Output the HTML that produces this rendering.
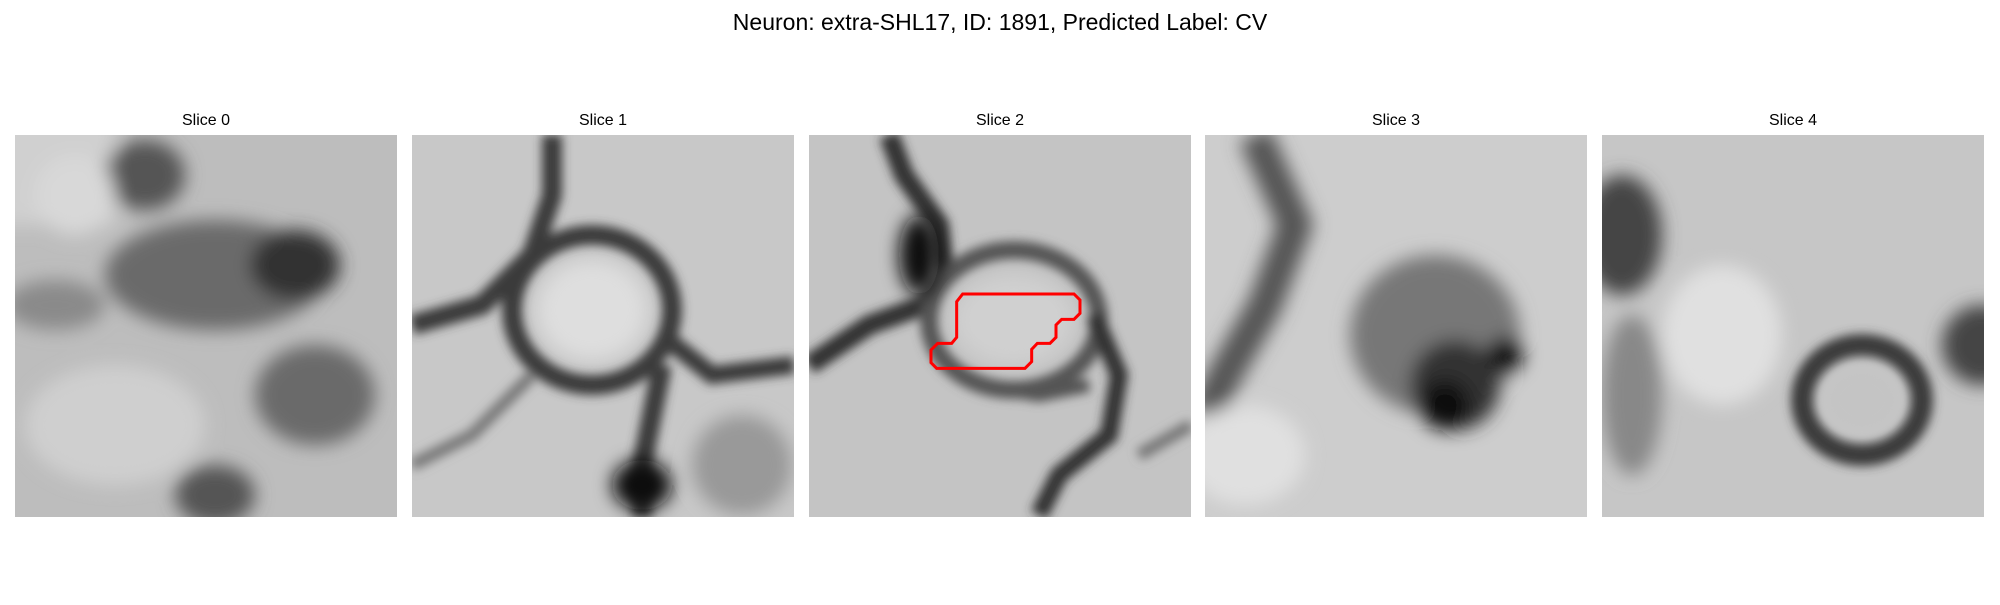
<!DOCTYPE html>
<html><head><style>
body{margin:0;background:#fff;width:2000px;height:600px;overflow:hidden;font-family:"Liberation Sans",sans-serif}
</style></head><body>
<svg width="2000" height="600" viewBox="0 0 2000 600" xmlns="http://www.w3.org/2000/svg">
<defs>
<filter id="b" x="-20%" y="-20%" width="140%" height="140%"><feGaussianBlur stdDeviation="9"/></filter>
<filter id="b2" x="-20%" y="-20%" width="140%" height="140%"><feGaussianBlur stdDeviation="5"/></filter>
<clipPath id="c"><rect x="0" y="0" width="382" height="382"/></clipPath>
</defs>
<text x="1000" y="30" text-anchor="middle" font-size="23">Neuron: extra-SHL17, ID: 1891, Predicted Label: CV</text>

<g transform="translate(15,135)">
<text x="191" y="-10" text-anchor="middle" font-size="16">Slice 0</text>
<g clip-path="url(#c)"><rect width="382" height="382" fill="#bdbdbd"/>
<g filter="url(#b)">
<rect x="-20" y="-20" width="120" height="110" fill="#d0d0d0"/>
<ellipse cx="130" cy="40" rx="40" ry="35" fill="#555"/>
<ellipse cx="200" cy="140" rx="110" ry="55" fill="#6a6a6a"/>
<ellipse cx="280" cy="130" rx="45" ry="35" fill="#333"/>
<ellipse cx="40" cy="170" rx="50" ry="25" fill="#8a8a8a"/>
<ellipse cx="100" cy="290" rx="90" ry="60" fill="#cfcfcf"/>
<ellipse cx="300" cy="260" rx="60" ry="50" fill="#6a6a6a"/>
<ellipse cx="200" cy="360" rx="40" ry="30" fill="#555"/>
<ellipse cx="60" cy="60" rx="40" ry="40" fill="#d8d8d8"/>
</g></g></g>

<g transform="translate(412,135)">
<text x="191" y="-10" text-anchor="middle" font-size="16">Slice 1</text>
<g clip-path="url(#c)"><rect width="382" height="382" fill="#c8c8c8"/>
<g filter="url(#b2)" fill="none" stroke="#3a3a3a">
<ellipse cx="180" cy="175" rx="80" ry="75" stroke-width="20"/>
<path d="M140 0 L140 60 L120 120 L70 170 L0 190" stroke-width="20"/>
<path d="M250 200 L300 240 L382 230" stroke-width="18"/>
<path d="M250 230 L230 330 L230 382" stroke-width="20"/>
<path d="M120 240 L60 300 L0 330" stroke-width="12" stroke="#777"/>
</g>
<g filter="url(#b)"><ellipse cx="180" cy="175" rx="55" ry="50" fill="#dedede"/>
<ellipse cx="230" cy="350" rx="30" ry="25" fill="#111"/>
<ellipse cx="330" cy="330" rx="50" ry="50" fill="#999"/></g>
</g></g>

<g transform="translate(809,135)">
<text x="191" y="-10" text-anchor="middle" font-size="16">Slice 2</text>
<g clip-path="url(#c)"><rect width="382" height="382" fill="#c4c4c4"/>
<g filter="url(#b2)" fill="none" stroke="#333">
<path d="M80 0 L95 40 L130 90 L135 140 L115 170 L60 190 L0 230" stroke-width="20"/>
<ellipse cx="205" cy="185" rx="85" ry="70" stroke-width="18" stroke="#555"/>
<path d="M285 180 L310 240 L300 300 L250 340 L230 380" stroke-width="18"/>
<path d="M170 250 L230 260 L280 250" stroke-width="14" stroke="#555"/>
<path d="M382 290 L330 320" stroke-width="12" stroke="#777"/>
</g>
<g filter="url(#b)"><ellipse cx="205" cy="185" rx="60" ry="45" fill="#d0d0d0"/>
<ellipse cx="110" cy="120" rx="20" ry="40" fill="#111"/></g>
</g></g>

<g transform="translate(1205,135)">
<text x="191" y="-10" text-anchor="middle" font-size="16">Slice 3</text>
<g clip-path="url(#c)"><rect width="382" height="382" fill="#cdcdcd"/>
<g filter="url(#b)">
<path d="M50 0 L90 90 L60 170 L20 240 L0 280" fill="none" stroke="#555" stroke-width="34"/>
<ellipse cx="230" cy="200" rx="85" ry="80" fill="#777"/>
<ellipse cx="250" cy="250" rx="45" ry="45" fill="#333"/>
<ellipse cx="240" cy="270" rx="25" ry="25" fill="#111"/>
<ellipse cx="300" cy="220" rx="18" ry="18" fill="#111"/>
<ellipse cx="40" cy="320" rx="60" ry="50" fill="#e0e0e0"/>
</g></g></g>

<g transform="translate(1602,135)">
<text x="191" y="-10" text-anchor="middle" font-size="16">Slice 4</text>
<g clip-path="url(#c)"><rect width="382" height="382" fill="#c6c6c6"/>
<g filter="url(#b)">
<ellipse cx="20" cy="100" rx="40" ry="60" fill="#444"/>
<ellipse cx="30" cy="260" rx="30" ry="80" fill="#888"/>
<ellipse cx="120" cy="200" rx="60" ry="70" fill="#e0e0e0"/>
<ellipse cx="380" cy="210" rx="40" ry="40" fill="#444"/>
</g>
<g filter="url(#b2)"><ellipse cx="260" cy="265" rx="60" ry="55" fill="none" stroke="#3a3a3a" stroke-width="22"/>
<ellipse cx="260" cy="265" rx="35" ry="30" fill="#c4c4c4"/></g>
</g></g>

<g transform="translate(800,130) scale(0.33333)">
<path d="M470 515 L488 492 L822 492 L840 510 L840 550 L822 568 L785 568 L768 585 L768 622 L750 640 L712 640 L695 658 L695 695 L675 715 L410 715 L393 698 L393 660 L413 640 L455 640 L470 622 Z" fill="none" stroke="#ff0000" stroke-width="9"/>
</g>
</svg>
</body></html>
